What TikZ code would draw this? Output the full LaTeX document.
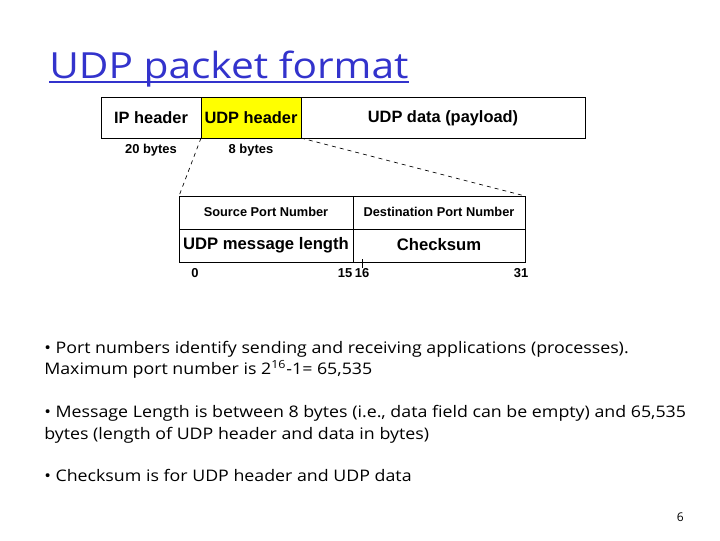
\documentclass[tikz,border=0pt]{standalone}
\usepackage{fontspec}
\usepackage{graphicx}
\setmainfont{Liberation Sans}
\newfontfamily\bodyfont{Open Sans}
\definecolor{titleblue}{RGB}{51,51,204}
\definecolor{hdryellow}{RGB}{255,255,0}
\newcommand{\wide}[1]{\scalebox{1.15}[1.03]{#1}}
\begin{document}
\begin{tikzpicture}[x=0.75pt,y=-0.75pt,
  box/.style={draw,line width=0.6pt},
  btxt/.style={font=\fontsize{12.3}{14}\selectfont\bfseries},
  stxt/.style={font=\fontsize{9.7}{11}\selectfont\bfseries},
  body/.style={anchor=base west,inner sep=0pt,font=\bodyfont\fontsize{11.6}{14}\selectfont},
  dashline/.style={dashed,line width=0.5pt}]
\useasboundingbox (0,0) rectangle (720,540);
% title
\node[anchor=base west,inner sep=0pt,text=titleblue,font=\bodyfont\fontsize{27}{30}\selectfont] (title) at (49,78) {\scalebox{1.13}[1]{UDP packet format}};
\draw[titleblue,line width=1.6pt] (49,82) -- (409,82);
% top packet
\draw[box,fill=hdryellow] (201,97) rectangle (301,138);
\draw[box] (101,97) rectangle (585,138);
\draw[box] (201,97) -- (201,138) (301,97) -- (301,138);
\node[btxt] (ip) at (151,118) {IP header};
\node[btxt] (udph) at (251,118) {UDP header};
\node[btxt] (data) at (443,118) {UDP data (payload)};
\node[stxt] (b20) at (151,150) {20 bytes};
\node[stxt] (b8) at (251,150) {8 bytes};
% lower header
\coordinate (tl) at (179,196);
\coordinate (tr) at (525,196);
\coordinate (hl) at (201,138);
\coordinate (hr) at (301,138);
\draw[box] (179,196) rectangle (525,262);
\draw[box] (179,229) -- (525,229) (353,196) -- (353,262);
\draw[line width=0.5pt] (362,259) -- (362,268);
\draw[dashline] (hl) -- (tl);
\draw[dashline] (hr) -- (tr);
\node[font=\fontsize{9.6}{11}\selectfont\bfseries] (src) at (266,212) {Source Port Number};
\node[font=\fontsize{9.6}{11}\selectfont\bfseries] (dst) at (439,212) {Destination Port Number};
\node[font=\fontsize{12.5}{14}\selectfont\bfseries] (len) at (266,245) {UDP message length};
\node[font=\fontsize{12.5}{14}\selectfont\bfseries] (chk) at (439,245) {Checksum};
\node[stxt] (n0) at (195,273) {0};
\node[stxt] (n15) at (345,273) {15};
\node[stxt] (n16) at (362,273) {16};
\node[stxt] (n31) at (521,273) {31};
% body text
\node[body] (l1) at (44,353) {\wide{• Port numbers identify sending and receiving applications (processes).}};
\node[body] (l2) at (44,374) {\wide{Maximum port number is 2\textsuperscript{16}-1= 65,535}};
\node[body] (l3) at (44,417) {\wide{• Message Length is between 8 bytes (i.e., data field can be empty) and 65,535}};
\node[body] (l4) at (44,439) {\wide{bytes (length of UDP header and data in bytes)}};
\node[body] (l5) at (44,481) {\wide{• Checksum is for UDP header and UDP data}};
\node[anchor=base east,inner sep=0pt,font=\bodyfont\fontsize{9}{11}\selectfont] (pg) at (684,521) {6};
\end{tikzpicture}
\end{document}
